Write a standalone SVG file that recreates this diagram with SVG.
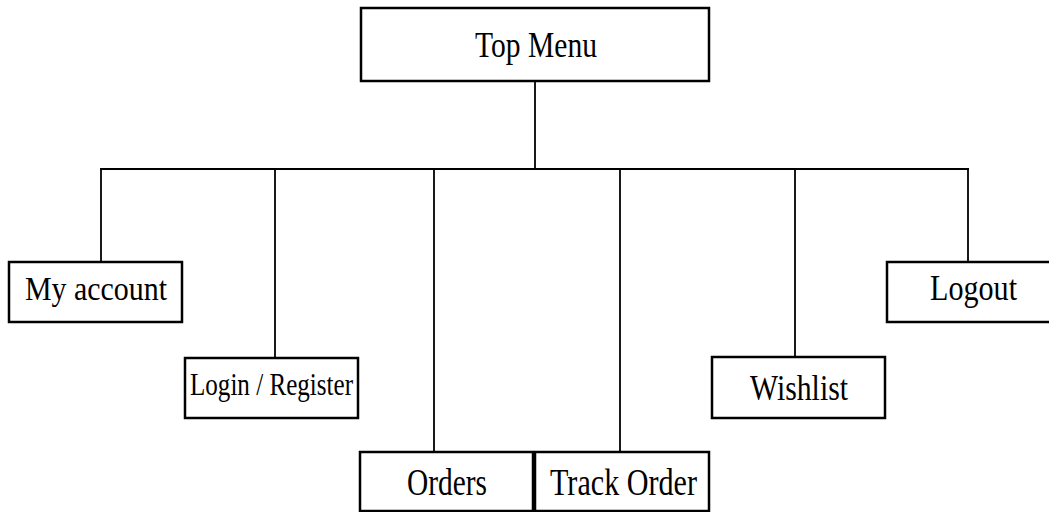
<svg xmlns="http://www.w3.org/2000/svg" width="1049" height="512" viewBox="0 0 1049 512">
<style>
.box{fill:#fff;stroke:#000;stroke-width:2.5}
.lbl{font-family:"Liberation Serif","Times New Roman",serif;fill:#000}
.conn{stroke:#000;stroke-width:1.8;fill:none}
</style>
<rect width="1049" height="512" fill="#fff"/>
<g id="connectors">
<line class="conn" x1="535" y1="81" x2="535" y2="169"/>
<line class="conn" x1="100" y1="169" x2="969" y2="169"/>
<line class="conn" x1="101" y1="169" x2="101" y2="262"/>
<line class="conn" x1="275" y1="169" x2="275" y2="358"/>
<line class="conn" x1="434" y1="169" x2="434" y2="452"/>
<line class="conn" x1="620" y1="169" x2="620" y2="452"/>
<line class="conn" x1="795" y1="169" x2="795" y2="357"/>
<line class="conn" x1="968" y1="169" x2="968" y2="262"/>
</g>
<g id="top-menu">
<rect class="box" x="361" y="8" width="348" height="73"/>
<text class="lbl" x="475" y="57" font-size="36" textLength="122" lengthAdjust="spacingAndGlyphs">Top Menu</text>
</g>
<g id="my-account">
<rect class="box" x="9" y="262" width="173" height="60"/>
<text class="lbl" x="25" y="300" font-size="34" textLength="142" lengthAdjust="spacingAndGlyphs">My account</text>
</g>
<g id="login-register">
<rect class="box" x="185" y="358" width="173" height="60"/>
<text class="lbl" x="190" y="395" font-size="31" textLength="163" lengthAdjust="spacingAndGlyphs">Login / Register</text>
</g>
<g id="orders">
<rect class="box" x="360" y="452" width="173" height="59"/>
<text class="lbl" x="407" y="495" font-size="37" textLength="80" lengthAdjust="spacingAndGlyphs">Orders</text>
</g>
<g id="track-order">
<rect class="box" x="535" y="452" width="174" height="59"/>
<text class="lbl" x="550" y="495" font-size="37" textLength="147" lengthAdjust="spacingAndGlyphs">Track Order</text>
</g>
<g id="wishlist">
<rect class="box" x="712" y="357" width="173" height="61"/>
<text class="lbl" x="750" y="400" font-size="35" textLength="98" lengthAdjust="spacingAndGlyphs">Wishlist</text>
</g>
<g id="logout">
<rect class="box" x="887" y="262" width="170" height="60"/>
<text class="lbl" x="930" y="300" font-size="35" textLength="87" lengthAdjust="spacingAndGlyphs">Logout</text>
</g>
</svg>
